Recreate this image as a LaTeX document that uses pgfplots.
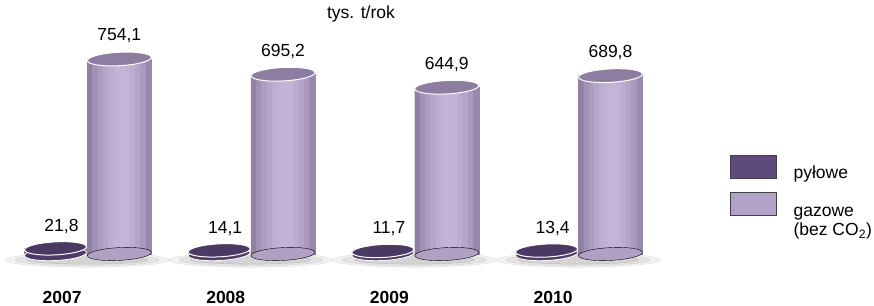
\documentclass[border=0pt]{standalone}
\usepackage{fontspec}
\setmainfont{Liberation Sans}
\usepackage{pgfplots}
\usepackage{pgfplotstable}
\pgfplotsset{compat=1.18}
\definecolor{gazD}{HTML}{8C7BA0}
\definecolor{gazM}{HTML}{C3B4D8}
\definecolor{gazTop}{HTML}{8D7DA0}
\definecolor{pylCol}{HTML}{4E3C68}
\definecolor{pylTop}{HTML}{4A3963}
\definecolor{legPyl}{HTML}{5F4A7D}
\definecolor{legGaz}{HTML}{B3A2C7}
\pgfplotstableread{
i pyl gaz pl gl
0 21.8 754.1 21,8 754,1
1 14.1 695.2 14,1 695,2
2 11.7 644.9 11,7 644,9
3 13.4 689.8 13,4 689,8
}\data
\newcommand{\gstrip}[2]{\addplot[forget plot, ybar, bar width=0.0345, bar shift=0pt, fill=gazM!#2!gazD, draw=gazM!#2!gazD, line width=0.3pt] table[x expr=\thisrow{i}+0.35+#1, y=gaz] {\data};}
\begin{document}
\begin{tikzpicture}[font=\fontsize{17.5}{21}\selectfont]
\begin{axis}[
  at={(0pt,51pt)}, anchor=south west,
  scale only axis, width=874pt, height=254pt,
  xmin=-0.379, xmax=4.960, ymin=0, ymax=982.2,
  clip=false,
  axis line style={draw=none}, tick style={draw=none}, major tick length=0pt,
  ytick=\empty,
  xtick={0,1,2,3}, xticklabels={2007,2008,2009,2010},
  xticklabel style={font=\fontsize{17.5}{21}\selectfont\bfseries, anchor=base, inner sep=0pt, yshift=-49pt},
  title={tys. t/rok},
  title style={at={(0.413,1)}, anchor=center, yshift=-20pt},
  legend image code/.code={\draw[#1] (0pt,-5pt) rectangle (46pt,18pt);},
  legend style={at={(0.835,0.39)}, anchor=north west, draw=none, fill=none,
    inner sep=0pt, outer sep=0pt, row sep=11.5pt, column sep=17pt,
    nodes={inner sep=0pt}},
  legend cell align=left,
]
% soft shadows
\addplot[forget plot, only marks, mark=*, mark size=82pt, mark options={draw=none, fill=gray, opacity=0.10, yscale=0.09}] table[x expr=\thisrow{i}+0.153, y expr=-23] {\data};
\addplot[forget plot, only marks, mark=*, mark size=72pt, mark options={draw=none, fill=gray, opacity=0.12, yscale=0.08}] table[x expr=\thisrow{i}+0.153, y expr=-23] {\data};
\addplot[forget plot, only marks, mark=*, mark size=60pt, mark options={draw=none, fill=gray, opacity=0.16, yscale=0.07}] table[x expr=\thisrow{i}+0.153, y expr=-23] {\data};
% pylowe disks
\addplot[forget plot, only marks, mark=*, mark size=31pt, mark options={fill=pylCol, draw=white, line width=0.8pt, rotate=3, yscale=0.21}] table[x expr=\thisrow{i}-0.04, y expr=0] {\data};
\addplot[forget plot, ybar, bar width=0.379, bar shift=0pt, fill=pylCol, draw=none] table[x expr=\thisrow{i}-0.04, y=pyl] {\data};
\addplot[forget plot, only marks, mark=*, mark size=31pt, mark options={fill=pylTop, draw=white, line width=1pt, rotate=3, yscale=0.21},
  point meta=explicit symbolic, nodes near coords,
  nodes near coords style={anchor=center, yshift=22pt, xshift=6pt, text=black}] table[x expr=\thisrow{i}-0.04, y=pyl, meta=pl] {\data};
% gazowe cylinders
\addplot[forget plot, only marks, mark=*, mark size=32pt, mark options={fill=gazM!65!gazD, draw=none, rotate=3, yscale=0.2}] table[x expr=\thisrow{i}+0.35, y expr=0] {\data};
\gstrip{-0.17875}{8}
\gstrip{-0.14625}{38}
\gstrip{-0.11375}{60}
\gstrip{-0.08125}{76}
\gstrip{-0.04875}{88}
\gstrip{-0.01625}{96}
\gstrip{0.01625}{100}
\gstrip{0.04875}{96}
\gstrip{0.08125}{86}
\gstrip{0.11375}{72}
\gstrip{0.14625}{52}
\gstrip{0.17875}{25}
\addplot[forget plot, only marks, mark=*, mark size=32pt, mark options={fill=gazTop, draw=white, line width=1pt, rotate=3, yscale=0.21},
  point meta=explicit symbolic, nodes near coords,
  nodes near coords style={anchor=center, yshift=23pt, text=black}] table[x expr=\thisrow{i}+0.35, y=gaz, meta=gl] {\data};
% legend
\addlegendimage{fill=legPyl, draw=black!75, line width=0.8pt}
\addlegendentry{pyłowe}
\addlegendimage{fill=legGaz, draw=black!75, line width=0.8pt}
\addlegendentry{\begin{tabular}[t]{@{}l@{}}gazowe\\[-2pt](bez CO\textsubscript{2})\end{tabular}}
\end{axis}
\pgfresetboundingbox
\path[use as bounding box] (0pt,0pt) rectangle (874pt,305pt);
\end{tikzpicture}
\end{document}
